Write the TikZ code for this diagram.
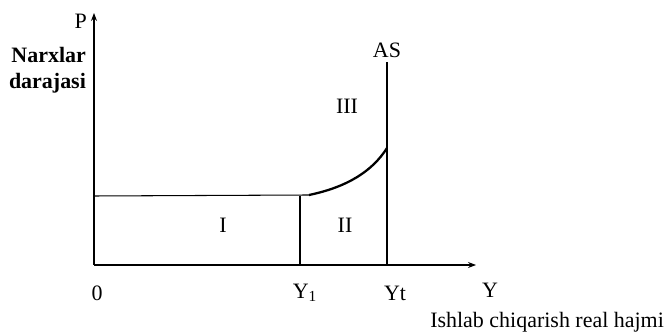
\documentclass[tikz,border=0pt]{standalone}
\usepackage{fontspec}
\setmainfont{Liberation Serif}
\usetikzlibrary{arrows.meta,positioning}

\begin{document}
\begin{tikzpicture}[
    node distance=0.2cm,
    axis/.style={line width=0.6pt, -{Stealth[length=1.6mm, width=1.2mm]}},
    thin/.style={line width=0.6pt},
    curve/.style={line width=1.3pt},
    lbl/.style={font=\fontsize{12.5}{15}\selectfont, inner sep=1pt},
    bold/.style={font=\fontsize{12.5}{15}\selectfont\bfseries, align=right, inner sep=1pt}
]
    \useasboundingbox (0,0) rectangle (13.34,6.70);

    % Axes
    \coordinate (O) at (1.88,1.40);
    \coordinate (ptop) at (1.88,6.44);
    \coordinate (xend) at (9.52,1.40);
    \draw[axis] (O) -- (ptop);
    \draw[axis] (O) -- (xend);

    % Key points
    \coordinate (lvl) at (1.88,2.78);
    \coordinate (y1top) at (6.00,2.78);
    \coordinate (y1bot) at (6.00,1.40);
    \coordinate (bend) at (6.18,2.80);
    \coordinate (ytmid) at (7.74,3.74);
    \coordinate (yttop) at (7.74,5.46);
    \coordinate (ytbot) at (7.74,1.40);

    % AS curve
    \draw[thin] (lvl) -- (bend);
    \draw[thin] (y1top) -- (y1bot);
    \draw[curve] (bend) .. controls (6.95,2.96) and (7.45,3.28) .. (ytmid);
    \draw[line width=1pt] (ytbot) -- (yttop);

    % Labels
    \node[lbl, anchor=east] (plbl) at (1.78,6.28) {P};
    \node[bold, anchor=east] (price) at (1.76,5.30) {Narxlar\\darajasi};
    \node[lbl, above=0.05cm of yttop] (as) {AS};
    \node[lbl] (r3) at (6.94,4.58) {III};
    \node[lbl] (r1) at (4.46,2.20) {I};
    \node[lbl] (r2) at (6.90,2.20) {II};
    \node[lbl] (zero) at (1.94,0.84) {0};
    \node[lbl] (y1) at (6.10,0.84) {Y\textsubscript{1}};
    \node[lbl] (yt) at (7.90,0.84) {Yt};
    \node[lbl] (ylbl) at (9.80,0.90) {Y};
    \node[lbl, anchor=east] (volume) at (13.32,0.26) {Ishlab chiqarish real hajmi};
\end{tikzpicture}
\end{document}
